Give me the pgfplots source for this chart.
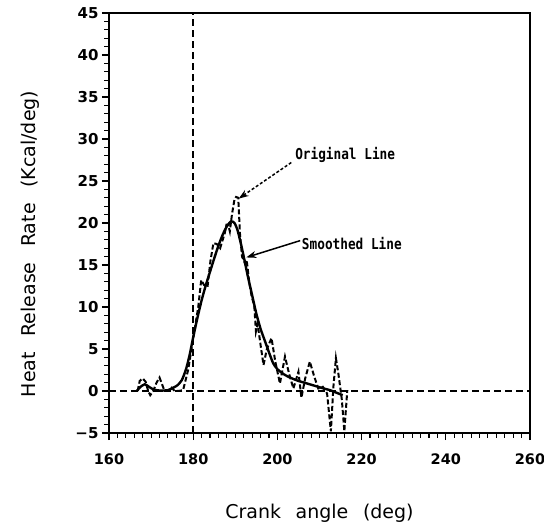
\documentclass[border=0pt]{standalone}
\usepackage{fontspec}
\setmainfont{DejaVu Sans}
\newfontfamily\annfont{DejaVu Sans Mono}
\usepackage{pgfplots}
\pgfplotsset{compat=1.18}
\usetikzlibrary{arrows.meta}

\begin{document}
\begin{tikzpicture}[x=1bp,y=1bp]
\useasboundingbox (-109,-92) rectangle (435,433);
\begin{axis}[
  at={(0,0)}, anchor=south west,
  scale only axis, width=421bp, height=420bp,
  xmin=160, xmax=260, ymin=-5, ymax=45,
  axis line style={line width=1.5bp},
  xtick={160,180,...,260},
  ytick={-5,0,...,45},
  yticklabels={−5,0,5,10,15,20,25,30,35,40,45},
  minor x tick num=9, minor y tick num=4,
  tick align=outside,
  xtick pos=bottom, ytick pos=left,
  major tick length=7bp, minor tick length=4.5bp,
  every tick/.style={black, line width=1.1bp},
  /pgf/number format/assume math mode=true,
  xticklabel style={font=\bfseries\fontsize{14.5bp}{17bp}\selectfont, yshift=-10bp},
  yticklabel style={font=\bfseries\fontsize{15bp}{17bp}\selectfont},
  every axis x label/.style={at={(axis description cs:0.5,-0.1905)}, anchor=center},
  every axis y label/.style={at={(axis description cs:-0.1876,0.45)}, rotate=90, anchor=center},
  label style={font=\fontsize{19bp}{22bp}\selectfont},
  xlabel={Crank\hspace{0.45em} angle\hspace{0.45em} (deg)},
  ylabel={Heat\hspace{0.5em} Release\hspace{0.5em} Rate\hspace{0.5em} (Kcal/deg)},
  clip=false,
]
% reference lines
\addplot[black, line width=1.7bp, dash pattern=on 7bp off 4bp] coordinates {(180,-5) (180,45)};
\addplot[black, line width=1.7bp, dash pattern=on 7bp off 4bp] coordinates {(160,0) (260,0)};
% original line
\addplot[black, line width=2bp, dash pattern=on 5bp off 2.5bp] coordinates {
(166.8,0) (167.3,1.2) (168,1.5) (168.7,1.1) (169.3,0.0) (169.8,-0.5) (170.5,0)
(171.3,1.0) (172,1.6) (172.6,0.8) (173.2,0) (174,0) (174.9,0.4) (175.6,0)
(176.5,0) (177.6,0.1) (178.8,2.5) (179.6,5.0) (180.4,7.5) (181.2,10.0)
(181.9,13.2) (182.6,12.6) (183.4,12.4) (184.1,15.5) (184.8,17.6) (185.6,17.5)
(186.4,17.0) (187.5,18.8) (187.9,19.8) (188.3,19.8) (188.7,19.0) (189.2,21.0)
(189.8,22.8) (190.2,23.1) (190.7,23.0) (191.1,18.8) (191.6,16.0) (192.3,15.2)
(192.7,15.6) (193.3,13.0) (193.9,11.2) (194.5,10.2) (194.9,7.1) (195.3,8.0)
(196,5.5) (196.7,3.1) (197.5,5.0) (198.6,6.3) (199.5,3.5) (200.6,0.9)
(201.8,4.1) (202.8,2.0) (203.8,0.3) (205,2.3) (205.7,-0.8) (206.6,1.5)
(207.7,3.5) (208.7,1.8) (209.7,0.3) (210.8,0.5) (211.8,-0.3) (212.7,-4.8)
(213.3,0.5) (213.9,3.9) (214.5,2.0) (215.3,-1.0) (215.9,-4.8) (216.6,0.1)
};
% smoothed line
\addplot[black, line width=2.4bp, smooth, tension=0.4] coordinates {
(166.6,0) (167.5,0.5) (168.5,0.8) (169.5,0.5) (170.5,0.2) (172,0.05) (174,0.1)
(175.3,0.4) (176.3,0.7) (177.3,1.3) (178.3,2.6) (179.2,4.4) (180,6.4) (181,8.7)
(182,10.8) (183,12.6) (184,14.2) (185,15.8) (186,17.3) (187,18.6) (188,19.6)
(189,20.2) (189.8,20.0) (190.5,19.2) (191.3,17.6) (192,16.0) (193,13.6)
(194,11.4) (195,9.2) (196,7.4) (197,6.0) (198,4.6) (199,3.3) (200,2.6)
(201.5,2.0) (203,1.6) (205,1.2) (207,0.9) (209,0.6) (211,0.3) (212.5,0.1)
(214,-0.2) (215.5,-0.5)
};
% annotations
\node[anchor=west, inner sep=0pt, xscale=0.85, font=\annfont\bfseries\fontsize{15bp}{15bp}\selectfont]
  at (axis cs:204.2,28.1) {Original Line};
\draw[black, line width=1.5bp, dash pattern=on 3bp off 2bp, -{Stealth[length=10bp,width=7bp]}]
  (axis cs:203.3,27.2) -- (axis cs:190.8,22.9);
\node[anchor=west, inner sep=0pt, xscale=0.85, font=\annfont\bfseries\fontsize{15bp}{15bp}\selectfont]
  at (axis cs:205.8,17.5) {Smoothed Line};
\draw[black, line width=1.5bp, -{Stealth[length=10bp,width=7bp]}]
  (axis cs:205.4,17.9) -- (axis cs:192.6,15.9);
\end{axis}
\end{tikzpicture}
\end{document}
